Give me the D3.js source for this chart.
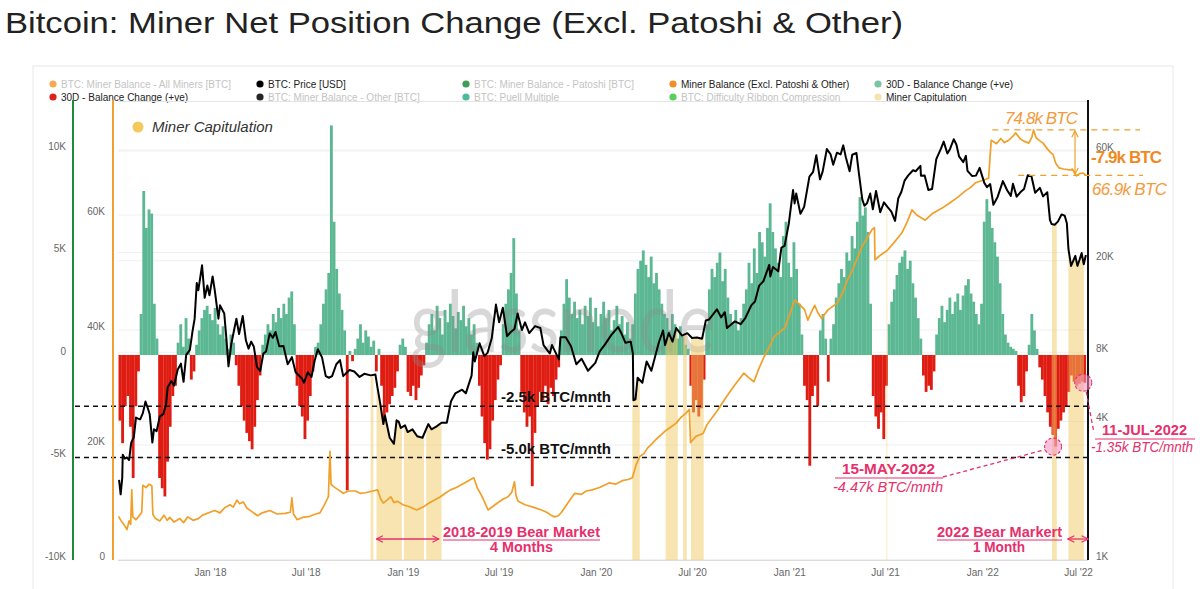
<!DOCTYPE html>
<html><head><meta charset="utf-8">
<script src="https://cdn.jsdelivr.net/npm/d3@7"></script>
<style>
body{margin:0;background:#fff}
svg{display:block;font-family:"Liberation Sans",Arial,Helvetica,sans-serif}
</style>
</head><body>
<svg id="c" width="1200" height="589"></svg>
<script>
// ---------------- DATA ----------------
const title = "Bitcoin: Miner Net Position Change (Excl. Patoshi & Other)";

// BTC price [USD]
const priceSeries = [
["2017-07-13",2230],["2017-07-16",1930],["2017-07-19",2270],["2017-07-20",2870],["2017-07-24",2760],["2017-07-28",2790],
["2017-08-01",2720],["2017-08-05",3240],["2017-08-10",3420],["2017-08-14",4160],["2017-08-18",4120],["2017-08-22",4090],
["2017-08-27",4350],["2017-09-01",4890],["2017-09-05",4600],["2017-09-09",4300],["2017-09-14",3240],["2017-09-17",3700],
["2017-09-22",3630],["2017-09-28",4200],["2017-10-05",4320],["2017-10-10",4770],["2017-10-13",5640],["2017-10-20",6000],
["2017-10-25",5730],["2017-11-01",6740],["2017-11-07",7140],["2017-11-12",5950],["2017-11-17",7790],["2017-11-24",8200],
["2017-11-29",9890],["2017-12-03",11200],["2017-12-07",16000],["2017-12-10",14900],["2017-12-17",19100],["2017-12-22",13800],
["2017-12-27",15600],["2017-12-31",14150],["2018-01-06",17100],["2018-01-10",14900],["2018-01-17",11200],["2018-01-20",12800],
["2018-01-28",11800],["2018-02-01",9200],["2018-02-05",6950],["2018-02-10",8600],["2018-02-16",10100],["2018-02-20",11200],
["2018-02-25",9600],["2018-03-04",11500],["2018-03-10",9000],["2018-03-15",8300],["2018-03-20",8900],["2018-03-25",8450],
["2018-03-31",6900],["2018-04-06",6630],["2018-04-12",7900],["2018-04-17",8050],["2018-04-24",9650],["2018-04-30",9250],
["2018-05-05",9800],["2018-05-12",8500],["2018-05-20",8520],["2018-05-28",7100],["2018-06-05",7620],["2018-06-12",6550],
["2018-06-24",6150],["2018-06-28",5900],["2018-07-05",6550],["2018-07-12",6250],["2018-07-18",7350],["2018-07-24",8250],
["2018-08-01",7600],["2018-08-08",6300],["2018-08-14",6200],["2018-08-20",6300],["2018-08-28",7100],["2018-09-04",7400],
["2018-09-10",6300],["2018-09-16",6500],["2018-09-22",6700],["2018-10-01",6600],["2018-10-11",6250],["2018-10-20",6450],
["2018-11-01",6350],["2018-11-10",6400],["2018-11-14",5600],["2018-11-19",4800],["2018-11-25",3900],["2018-11-28",4250],
["2018-12-07",3400],["2018-12-15",3200],["2018-12-20",4050],["2018-12-24",4000],["2018-12-28",3750],["2019-01-05",3850],
["2019-01-10",3600],["2019-01-19",3700],["2019-01-28",3450],["2019-02-07",3400],["2019-02-18",3900],["2019-02-24",3700],
["2019-03-05",3800],["2019-03-15",3950],["2019-03-25",3950],["2019-04-02",4900],["2019-04-10",5300],["2019-04-23",5500],
["2019-04-30",5300],["2019-05-11",6350],["2019-05-14",8000],["2019-05-17",7300],["2019-05-26",8750],["2019-06-04",7700],
["2019-06-10",7950],["2019-06-18",9200],["2019-06-26",12900],["2019-07-02",10800],["2019-07-09",12500],["2019-07-17",9400],
["2019-07-24",9800],["2019-07-31",10100],["2019-08-06",11800],["2019-08-14",10000],["2019-08-20",10800],["2019-08-28",9700],
["2019-09-08",10400],["2019-09-18",10200],["2019-09-24",8600],["2019-10-06",7900],["2019-10-10",8600],["2019-10-23",7450],
["2019-10-26",9300],["2019-11-05",9300],["2019-11-15",8500],["2019-11-25",7100],["2019-12-05",7500],["2019-12-17",6650],
["2019-12-31",7200],["2020-01-08",8050],["2020-01-19",8700],["2020-01-30",9500],["2020-02-12",10300],["2020-02-19",9600],
["2020-02-26",8800],["2020-03-07",8900],["2020-03-11",7900],["2020-03-12",4950],["2020-03-16",5000],["2020-03-20",6200],
["2020-03-29",5900],["2020-04-06",7300],["2020-04-15",6650],["2020-04-29",8800],["2020-05-07",9950],["2020-05-11",8600],
["2020-05-18",9700],["2020-05-25",8900],["2020-06-01",10200],["2020-06-12",9460],["2020-06-22",9690],["2020-07-01",9230],
["2020-07-10",9280],["2020-07-20",9170],["2020-07-27",11000],["2020-08-02",11100],["2020-08-17",12300],["2020-08-25",11350],
["2020-09-01",11950],["2020-09-05",10200],["2020-09-20",10900],["2020-10-01",10600],["2020-10-10",11300],["2020-10-21",12800],
["2020-10-28",13300],["2020-11-05",15600],["2020-11-13",16300],["2020-11-24",19200],["2020-11-26",17100],["2020-12-01",18800],
["2020-12-11",18000],["2020-12-17",22800],["2020-12-23",23200],["2020-12-31",29000],["2021-01-08",40600],["2021-01-11",35500],
["2021-01-14",39200],["2021-01-22",32000],["2021-01-29",34300],["2021-02-08",46400],["2021-02-15",48700],["2021-02-21",57500],
["2021-02-28",45200],["2021-03-05",48800],["2021-03-13",61200],["2021-03-20",58100],["2021-03-25",52300],["2021-04-01",59000],
["2021-04-08",58000],["2021-04-13",63500],["2021-04-18",56200],["2021-04-25",49000],["2021-04-30",57800],["2021-05-08",58800],
["2021-05-12",49200],["2021-05-19",37000],["2021-05-23",34700],["2021-05-28",35600],["2021-06-03",39200],["2021-06-08",33500],
["2021-06-14",40200],["2021-06-22",32500],["2021-06-29",35900],["2021-07-06",34200],["2021-07-13",32700],["2021-07-20",29800],
["2021-07-26",37300],["2021-08-01",39900],["2021-08-07",44600],["2021-08-14",47000],["2021-08-23",49500],["2021-08-28",49000],
["2021-09-06",51700],["2021-09-07",46900],["2021-09-14",47000],["2021-09-21",40600],["2021-09-28",41000],["2021-10-06",55300],
["2021-10-15",61600],["2021-10-20",65900],["2021-10-27",58500],["2021-11-01",61300],["2021-11-08",67500],["2021-11-13",64100],
["2021-11-18",56900],["2021-11-26",53700],["2021-12-01",57200],["2021-12-04",49200],["2021-12-13",46700],["2021-12-20",46900],
["2021-12-27",50700],["2022-01-05",43500],["2022-01-10",41800],["2022-01-16",43100],["2022-01-22",35000],["2022-01-30",37900],
["2022-02-09",44400],["2022-02-17",40500],["2022-02-24",38300],["2022-02-28",43200],["2022-03-07",38000],["2022-03-14",39700],
["2022-03-21",41000],["2022-03-28",47100],["2022-04-04",46600],["2022-04-11",39500],["2022-04-20",41500],["2022-04-26",38100],
["2022-05-04",39700],["2022-05-09",30100],["2022-05-12",28900],["2022-05-18",28700],["2022-05-24",29600],["2022-05-31",31800],
["2022-06-06",31400],["2022-06-10",29100],["2022-06-13",22500],["2022-06-18",19000],["2022-06-22",20000],["2022-06-26",21000],
["2022-06-30",19000],["2022-07-04",20200],["2022-07-08",21600],["2022-07-12",19300],["2022-07-16",21200]
];

// Miner Balance (Excl. Patoshi & Other) [thousand BTC]
const minerBalanceK = [
["2017-07-12",7.6],["2017-07-17",6.8],["2017-07-22",6.2],["2017-07-28",5.3],["2017-08-01",6.8],["2017-08-04",6.2],
["2017-08-06",12.2],["2017-08-08",7.5],["2017-08-14",7.0],["2017-08-21",7.8],["2017-08-25",8.3],["2017-08-27",13.0],
["2017-09-02",12.6],["2017-09-08",13.2],["2017-09-13",12.9],["2017-09-15",7.9],["2017-09-20",7.2],["2017-09-28",6.8],
["2017-10-06",7.8],["2017-10-12",6.9],["2017-10-17",7.4],["2017-10-25",6.6],["2017-11-05",7.2],["2017-11-12",6.5],
["2017-11-20",7.5],["2017-11-30",6.9],["2017-12-10",7.2],["2017-12-18",7.8],["2018-01-01",8.3],["2018-01-10",8.6],
["2018-01-20",8.2],["2018-01-29",9.1],["2018-02-08",9.6],["2018-02-14",9.2],["2018-02-21",10.4],["2018-02-26",9.8],
["2018-03-05",10.1],["2018-03-12",9.0],["2018-03-20",8.5],["2018-04-01",7.7],["2018-04-10",8.2],["2018-04-24",8.6],
["2018-05-08",8.0],["2018-05-23",8.1],["2018-06-02",8.3],["2018-06-05",10.8],["2018-06-08",8.0],["2018-06-15",7.0],
["2018-06-25",7.4],["2018-07-09",7.6],["2018-07-20",8.0],["2018-07-28",8.2],["2018-08-05",9.5],["2018-08-13",11.0],
["2018-08-16",18.9],["2018-08-18",13.2],["2018-08-22",12.8],["2018-09-01",12.2],["2018-09-10",11.6],["2018-09-20",12.0],
["2018-10-03",12.0],["2018-10-12",11.6],["2018-10-22",11.7],["2018-11-05",12.0],["2018-11-14",12.2],["2018-11-20",10.6],
["2018-11-25",9.9],["2018-12-02",10.4],["2018-12-09",11.0],["2018-12-15",10.0],["2018-12-22",10.2],["2019-01-01",9.6],
["2019-01-12",9.3],["2019-01-27",8.7],["2019-02-08",9.2],["2019-02-21",10.0],["2019-03-01",10.4],["2019-03-13",11.0],
["2019-03-22",11.6],["2019-04-01",12.2],["2019-04-12",12.6],["2019-04-24",13.2],["2019-05-05",13.8],["2019-05-15",14.3],
["2019-05-22",12.5],["2019-05-28",11.5],["2019-06-04",10.2],["2019-06-11",8.7],["2019-06-20",9.3],["2019-06-30",10.0],
["2019-07-10",10.6],["2019-07-19",11.0],["2019-07-26",11.8],["2019-07-31",13.6],["2019-08-03",11.2],["2019-08-07",10.2],
["2019-08-20",9.6],["2019-09-07",9.1],["2019-09-20",8.7],["2019-09-30",8.3],["2019-10-08",7.8],["2019-10-15",7.5],
["2019-10-22",7.7],["2019-10-28",8.3],["2019-11-08",9.8],["2019-11-22",11.6],["2019-12-04",11.4],["2019-12-14",12.0],
["2019-12-25",12.2],["2020-01-08",12.6],["2020-01-26",13.4],["2020-02-08",13.2],["2020-02-20",13.8],["2020-03-02",14.0],
["2020-03-10",14.3],["2020-03-17",16.5],["2020-03-24",18.0],["2020-04-01",18.5],["2020-04-08",19.5],["2020-04-16",20.2],
["2020-04-24",21.0],["2020-05-04",21.8],["2020-05-12",22.5],["2020-05-20",23.0],["2020-06-01",23.8],["2020-06-10",24.8],
["2020-06-20",25.6],["2020-06-26",26.2],["2020-06-28",20.4],["2020-07-08",21.5],["2020-07-22",22.0],["2020-07-29",23.5],
["2020-08-05",24.4],["2020-08-18",26.0],["2020-09-04",28.4],["2020-09-18",30.2],["2020-10-07",32.5],["2020-10-15",31.8],
["2020-10-26",31.0],["2020-11-04",33.2],["2020-11-14",35.3],["2020-11-24",37.0],["2020-12-03",38.8],["2020-12-13",39.6],
["2020-12-23",40.3],["2021-01-01",42.5],["2021-01-11",45.2],["2021-01-20",44.5],["2021-01-30",43.5],["2021-02-05",41.7],
["2021-02-12",43.2],["2021-02-18",44.3],["2021-02-24",43.0],["2021-03-03",42.0],["2021-03-15",43.5],["2021-04-02",44.7],
["2021-04-12",46.5],["2021-04-21",48.7],["2021-05-01",50.5],["2021-05-10",52.6],["2021-05-18",54.4],["2021-05-28",56.0],
["2021-06-06",57.4],["2021-06-11",57.8],["2021-06-12",52.2],["2021-06-22",53.0],["2021-07-06",53.9],["2021-07-18",55.2],
["2021-08-02",56.9],["2021-08-12",58.8],["2021-08-21",60.9],["2021-08-30",60.0],["2021-09-15",59.1],["2021-09-28",60.2],
["2021-10-17",61.2],["2021-10-30",62.0],["2021-11-16",63.1],["2021-11-30",64.2],["2021-12-10",64.8],["2021-12-19",65.6],
["2022-01-01",66.0],["2022-01-13",66.4],["2022-01-16",70.5],["2022-01-18",73.0],["2022-01-28",72.4],["2022-02-05",73.3],
["2022-02-12",72.6],["2022-02-20",73.0],["2022-03-01",73.8],["2022-03-05",74.3],["2022-03-14",73.2],["2022-03-22",72.8],
["2022-03-30",72.5],["2022-04-05",73.6],["2022-04-08",74.8],["2022-04-13",73.4],["2022-04-20",72.9],["2022-04-26",72.5],
["2022-05-04",71.5],["2022-05-10",70.9],["2022-05-15",70.5],["2022-05-20",69.0],["2022-05-26",68.2],["2022-06-04",68.0],
["2022-06-12",67.9],["2022-06-22",67.8],["2022-06-28",66.8],["2022-07-04",67.2],["2022-07-11",67.3],["2022-07-16",66.9]
];

// 30D balance change [thousand BTC], one value every 5 days starting 2017-07-12
const changeStart = "2017-07-12";
const changeStepDays = 5;
const balanceChange30dK = [
-3.2,-4.3,-2.5,-2.0,-3.5,-6.0,-2.5,-0.8,
2.0,8.0,6.2,7.1,6.9,2.5,0.8,
-6.0,-6.5,-6.9,-5.2,-3.5,-2.0,-1.5,
0.6,1.5,0.4,1.8,0.8,-1.2,-0.8,
0.5,1.2,1.8,2.2,2.4,2.0,1.7,2.3,1.5,1.0,1.4,0.8,0.3,
1.0,0.6,-0.5,
-1.5,-2.5,-3.2,-3.8,-4.2,-4.6,-3.5,-2.2,-1.0,
0.5,1.0,1.5,1.2,2.0,1.6,2.3,1.8,2.5,2.0,2.8,3.1,1.5,
-1.5,-2.5,-3.0,-4.1,-3.2,-2.0,-0.8,
0.4,0.6,
1.5,2.5,3.2,4.0,11.2,6.5,4.2,3.0,2.2,1.2,
-6.6,
0.2,-0.3,0.3,
0.8,1.5,0.6,1.2,0.9,0.4,0.7,
-0.8,
0.3,
-1.5,-3.2,-2.8,-2.4,-2.0,-1.6,-0.8,
0.5,0.8,0.4,
-1.8,-2.0,-1.5,-2.2,-1.6,-1.0,-0.5,
0.6,1.5,2.0,1.2,2.4,1.8,1.0,2.2,1.6,2.5,1.9,1.3,2.1,1.7,2.4,1.4,1.8,1.0,1.5,0.6,
-1.5,-3.0,-4.3,-5.1,-4.6,-3.2,-2.2,-1.2,-0.5,
1.5,2.5,3.2,4.0,5.7,3.0,1.2,
-1.8,-2.8,-3.5,-3.0,-6.4,-3.8,-2.5,-1.8,-2.2,-1.5,-2.4,-1.6,-2.0,-1.2,-0.6,
1.2,2.5,3.7,2.8,2.0,2.6,1.8,2.2,1.5,2.4,1.9,2.8,1.6,2.3,1.4,2.0,2.6,1.8,2.2,1.2,1.7,2.4,1.5,1.9,1.0,1.6,0.8,
1.5,3.0,4.2,4.6,5.1,4.4,3.8,4.8,3.5,4.0,3.2,2.5,2.0,
1.8,1.2,2.0,1.5,0.8,1.4,0.9,0.5,0.3,
-1.5,-2.8,-2.2,-3.0,-2.6,-1.2,
1.5,3.2,4.2,3.8,4.5,5.0,3.6,4.2,2.8,2.0,1.5,2.2,1.2,1.8,2.5,3.2,4.5,3.5,5.2,4.0,6.0,5.5,4.8,6.2,7.4,6.0,5.2,4.5,3.8,
5.8,6.5,4.5,3.8,5.5,4.2,2.5,1.0,
-1.5,-2.2,-5.4,-2.0,-1.5,-2.5,
1.2,2.0,0.8,
-1.3,
0.8,1.5,2.8,3.5,4.2,3.8,5.0,4.6,5.8,5.2,6.5,7.7,6.8,7.2,6.0,2.5,
-2.0,-3.0,-3.6,-2.8,-4.1,-1.5,
1.5,2.6,3.2,3.9,4.5,4.8,5.1,4.2,4.6,3.5,2.8,1.8,0.8,
-1.0,-1.8,-1.5,-1.7,-0.8,
1.0,1.8,2.4,1.6,2.2,2.8,2.0,2.6,3.0,2.2,2.9,3.4,3.7,3.0,2.6,2.0,1.5,2.5,6.5,7.6,7.0,6.2,5.5,4.8,3.5,2.0,1.0,0.6,0.4,0.3,0.2,
-1.5,-2.3,-2.0,-0.8,
0.5,2.0,1.2,0.3,
-0.6,-1.2,-2.0,-2.8,-3.5,-3.9,-4.47,-3.6,-3.2,-2.8,-2.5,-1.8,
-1.0,-1.3,-1.5,-1.4,-1.3,-1.35
];

// Miner Capitulation periods
const capitulationPeriods = [
["2018-11-01","2018-11-06"],["2018-11-12","2018-12-30"],["2019-01-03","2019-02-10"],["2019-02-14","2019-03-15"],
["2020-03-10","2020-03-24"],["2020-05-12","2020-06-04"],["2020-06-14","2020-06-21"],["2020-06-29","2020-07-23"],
["2021-07-03","2021-07-06"],["2022-05-13","2022-05-22"],["2022-06-13","2022-07-12"]
];

const balTicks = [-10,-5,0,5,10];
const balTickLabels = ["-10K","-5K","0","5K","10K"];
const minerTicks = [0,20,40,60];
const minerTickLabels = ["0","20K","40K","60K"];
const priceTicks = [1000,4000,8000,20000,60000];
const priceTickLabels = ["1K","4K","8K","20K","60K"];
const xTickDates = ["2018-01-01","2018-07-01","2019-01-01","2019-07-01","2020-01-01","2020-07-01","2021-01-01","2021-07-01","2022-01-01","2022-07-01"];
const xTickLabels = ["Jan '18","Jul '18","Jan '19","Jul '19","Jan '20","Jul '20","Jan '21","Jul '21","Jan '22","Jul '22"];
const thresholdLevelsK = [-2.5,-5.0];
const thresholdLabels = ["-2.5k BTC/mnth","-5.0k BTC/mnth"];

const legendRow1 = [
 {label:"BTC: Miner Balance - All Miners [BTC]", dot:"#f39c34", active:false},
 {label:"BTC: Price [USD]", dot:"#000", active:true},
 {label:"BTC: Miner Balance - Patoshi [BTC]", dot:"#1e8a3c", active:false},
 {label:"Miner Balance (Excl. Patoshi & Other)", dot:"#ef9022", active:true},
 {label:"30D - Balance Change (+ve)", dot:"#7cc4a5", active:true}
];
const legendRow2 = [
 {label:"30D - Balance Change (+ve)", dot:"#e0201a", active:true},
 {label:"BTC: Miner Balance - Other [BTC]", dot:"#000", active:false},
 {label:"BTC: Puell Multiple", dot:"#2bb08a", active:false},
 {label:"BTC: Difficulty Ribbon Compression", dot:"#3ec43e", active:false},
 {label:"Miner Capitulation", dot:"#f6e3ae", active:true}
];

// ---------------- CHART ----------------
const parse = d3.utcParse("%Y-%m-%d");
const svg = d3.select("#c");
const PL = 118, PR = 1088, PT = 100, PB = 560;
const x = d3.scaleUtc().domain([parse("2017-07-11"), parse("2022-07-20")]).range([PL, PR]);
const yBal = d3.scaleLinear().domain([-10,10]).range([560,150]);
const yMin = d3.scaleLinear().domain([0,80]).range([560,100]);
const yPx = d3.scaleLog().domain([1000,100000]).range([560,100]);

const pink = "#e5306c", orange = "#f0a02a", orangeTxt = "#f39b3c";
const defs = svg.append("defs");

// frame
svg.append("rect").attr("x",33).attr("y",66).attr("width",1140).attr("height",540)
  .attr("fill","none").attr("stroke","#e8e8e8");

// title
svg.append("text").attr("x",5).attr("y",33).text(title)
  .attr("font-size",29).attr("fill","#222").attr("textLength",898).attr("lengthAdjust","spacingAndGlyphs");

// legend
const colX = [53,260,466,673,878];
[[legendRow1,84],[legendRow2,97]].forEach(([row,yy]) => {
  row.forEach((d,i) => {
    svg.append("circle").attr("cx",colX[i]).attr("cy",yy).attr("r",3.6).attr("fill",d.dot)
      .attr("opacity", d.active?1:0.85);
    svg.append("text").attr("x",colX[i]+8).attr("y",yy+3.5).text(d.label)
      .attr("font-size",10).attr("fill", d.active?"#222":"#c4c4c4");
  });
});
svg.append("line").attr("x1",PL).attr("x2",PR).attr("y1",101.5).attr("y2",101.5).attr("stroke","#e4e4e4");

// gridlines
const grid = svg.append("g").attr("stroke","#efefef").attr("stroke-width",1);
priceTicks.forEach(t => grid.append("line").attr("x1",PL).attr("x2",PR).attr("y1",yPx(t)).attr("y2",yPx(t)));
balTicks.forEach(t => grid.append("line").attr("x1",PL).attr("x2",PR).attr("y1",yBal(t)).attr("y2",yBal(t)));
minerTicks.forEach(t => grid.append("line").attr("x1",PL).attr("x2",PR).attr("y1",yMin(t)).attr("y2",yMin(t)));
svg.append("line").attr("x1",PL).attr("x2",PR).attr("y1",PB+0.5).attr("y2",PB+0.5).attr("stroke","#dcdcdc");

// bars
const start = parse(changeStart);
const bars = balanceChange30dK.map((v,i) => ({d: d3.utcDay.offset(start, i*changeStepDays), v}));
svg.append("g").selectAll("rect").data(bars).join("rect")
  .attr("x", d => x(d.d))
  .attr("width", d => x(d3.utcDay.offset(d.d, changeStepDays)) - x(d.d) + 0.2)
  .attr("y", d => d.v >= 0 ? yBal(d.v) : yBal(0))
  .attr("height", d => Math.abs(yBal(d.v) - yBal(0)))
  .attr("fill", d => d.v >= 0 ? "#5cb793" : "#df1c12");

// watermark
svg.append("text").attr("x",410).attr("y",352).text("glassnode")
  .attr("font-family","Lato, 'Open Sans', sans-serif").attr("font-size",86)
  .attr("fill","#8a8a8a").attr("opacity",0.33).attr("textLength",305).attr("lengthAdjust","spacingAndGlyphs");

// capitulation bands clipped under the price line
const price = priceSeries.map(([d,v]) => ({date: parse(d), v}));
const underArea = d3.area().x(d => x(d.date)).y0(PB).y1(d => yPx(d.v));
defs.append("clipPath").attr("id","underPrice").append("path").attr("d", underArea(price));
svg.append("g").attr("clip-path","url(#underPrice)").selectAll("rect").data(capitulationPeriods).join("rect")
  .attr("x", d => x(parse(d[0])))
  .attr("width", d => Math.max(1.2, x(parse(d[1])) - x(parse(d[0]))))
  .attr("y", PT).attr("height", PB-PT)
  .attr("fill","#f1c961").attr("opacity", d => d[0]==="2021-07-03" ? 0.25 : 0.5);

// threshold dashed lines
thresholdLevelsK.forEach((lv,i) => {
  svg.append("line").attr("x1",75).attr("x2",PR).attr("y1",yBal(lv)).attr("y2",yBal(lv))
    .attr("stroke","#111").attr("stroke-width",1.3).attr("stroke-dasharray","5,4");
  svg.append("text").attr("x",501).attr("y",yBal(lv)-4).text(thresholdLabels[i])
    .attr("font-size",15).attr("font-weight","bold").attr("fill","#111");
});

// miner balance line
const miner = minerBalanceK.map(([d,v]) => ({date: parse(d), v}));
svg.append("path").datum(miner).attr("fill","none").attr("stroke",orange).attr("stroke-width",1.7)
  .attr("stroke-linejoin","round")
  .attr("d", d3.line().x(d => x(d.date)).y(d => yMin(d.v)));

// price line
svg.append("path").datum(price).attr("fill","none").attr("stroke","#000").attr("stroke-width",2)
  .attr("stroke-linejoin","round")
  .attr("d", d3.line().x(d => x(d.date)).y(d => yPx(d.v)));

// axes lines
svg.append("line").attr("x1",73).attr("x2",73).attr("y1",PT).attr("y2",PB).attr("stroke","#1f8a3a").attr("stroke-width",2);
svg.append("line").attr("x1",113).attr("x2",113).attr("y1",PT).attr("y2",PB).attr("stroke","#f0a030").attr("stroke-width",2);
svg.append("line").attr("x1",PR).attr("x2",PR).attr("y1",PT).attr("y2",PB).attr("stroke","#111").attr("stroke-width",2);

// axes labels
function axisLabels(scale, ticks, labels, xx, anchor){
  const g = svg.append("g");
  ticks.forEach((t,i) => g.append("text").attr("x",xx).attr("y",scale(t)-4).attr("dy","0.35em")
    .attr("text-anchor",anchor).attr("font-size",10).attr("fill","#666").text(labels[i]));
}
axisLabels(yBal, balTicks, balTickLabels, 66, "end");
axisLabels(yMin, minerTicks, minerTickLabels, 105, "end");
axisLabels(yPx, priceTicks, priceTickLabels, 1096, "start");
const xAxis = d3.axisBottom(x).tickValues(xTickDates.map(parse)).tickFormat((d,i) => xTickLabels[i]).tickSize(0).tickPadding(0);
const gx = svg.append("g").attr("transform","translate(0,569)").call(xAxis);
gx.select(".domain").remove();
gx.selectAll("text").attr("font-size",10).attr("fill","#666").attr("font-family","'Liberation Sans', Arial, sans-serif");

// in-chart legend
svg.append("circle").attr("cx",138).attr("cy",127).attr("r",5.5).attr("fill","#f3c95c");
svg.append("text").attr("x",152).attr("y",132).text("Miner Capitulation").attr("font-size",15)
  .attr("font-style","italic").attr("fill","#333");

// markers
function marker(id, color){
  defs.append("marker").attr("id",id).attr("viewBox","0 0 10 10").attr("refX",9).attr("refY",5)
    .attr("markerUnits","userSpaceOnUse").attr("markerWidth",8).attr("markerHeight",8)
    .attr("orient","auto-start-reverse")
    .append("path").attr("d","M1,1 L9,5 L1,9").attr("fill","none").attr("stroke",color).attr("stroke-width",1.5);
}
marker("ap", pink); marker("ao", orange);

// orange annotation (top right)
const yHi = yMin(74.8), yLo = yMin(66.9);
svg.append("line").attr("x1",x(parse("2022-01-20"))).attr("x2",1140).attr("y1",yHi).attr("y2",yHi)
  .attr("stroke",orange).attr("stroke-width",1.3).attr("stroke-dasharray","6,5");
svg.append("line").attr("x1",x(parse("2022-03-10"))).attr("x2",1143).attr("y1",yLo).attr("y2",yLo)
  .attr("stroke",orange).attr("stroke-width",1.3).attr("stroke-dasharray","6,5");
svg.append("line").attr("x1",1075).attr("x2",1075).attr("y1",yHi+1).attr("y2",yLo-1)
  .attr("stroke",orange).attr("stroke-width",1.2).attr("marker-start","url(#ao)").attr("marker-end","url(#ao)");
svg.append("text").attr("x",1078).attr("y",124).attr("text-anchor","end").text("74.8k BTC")
  .attr("font-size",17).attr("font-style","italic").attr("fill",orangeTxt).attr("textLength",73);
svg.append("text").attr("x",1091).attr("y",163).text("-7.9k BTC")
  .attr("font-size",17).attr("font-weight","bold").attr("fill","#ef8a1f").attr("textLength",71);
svg.append("text").attr("x",1092).attr("y",195).text("66.9k BTC")
  .attr("font-size",17).attr("font-style","italic").attr("fill",orangeTxt).attr("textLength",75);

// pink annotations
const c1 = {x: x(parse("2022-05-15")), y: yBal(-4.47)};
const c2 = {x: x(parse("2022-07-11")), y: yBal(-1.35)};
[c1,c2].forEach(c => svg.append("circle").attr("cx",c.x).attr("cy",c.y).attr("r",8.5)
  .attr("fill","#f48fbf").attr("fill-opacity",0.55).attr("stroke",pink).attr("stroke-width",1.1).attr("stroke-dasharray","3,2"));
svg.append("path").attr("d",`M943,477 L${c1.x-8},${c1.y+3}`).attr("stroke",pink).attr("stroke-width",1.3)
  .attr("stroke-dasharray","4,3").attr("fill","none");
svg.append("path").attr("d",`M${c2.x+3},${c2.y+9} Q1090,412 1094,433`).attr("stroke",pink).attr("stroke-width",1.3)
  .attr("stroke-dasharray","4,3").attr("fill","none");

function pinkLabel(txt, xx, yy, w, bold, italic){
  const t = svg.append("text").attr("x",xx).attr("y",yy).text(txt).attr("fill",pink)
    .attr("font-size",14.5)
    .attr("font-weight",bold?"bold":"normal").attr("font-style",italic?"italic":"normal");
  if (w) t.attr("textLength",w).attr("lengthAdjust","spacingAndGlyphs");
  return t;
}
function uline(x1,x2,yy){ svg.append("line").attr("x1",x1).attr("x2",x2).attr("y1",yy).attr("y2",yy).attr("stroke",pink).attr("stroke-width",1.2); }

pinkLabel("15-MAY-2022", 842, 474, 93, true, false);
uline(835, 943, 478);
pinkLabel("-4.47k BTC/mnth", 833, 492, 110, false, true);

pinkLabel("11-JUL-2022", 1102, 435, 85, true, false);
uline(1095, 1195, 439);
pinkLabel("-1.35k BTC/mnth", 1091, 452, 102, false, true);

pinkLabel("2018-2019 Bear Market", 443, 537, 157, true, false);
uline(443, 600, 540);
pinkLabel("4 Months", 490, 552, 63, true, false);
svg.append("line").attr("x1",x(parse("2018-11-12"))).attr("x2",x(parse("2019-03-10"))).attr("y1",539).attr("y2",539)
  .attr("stroke",pink).attr("stroke-width",1.3).attr("marker-start","url(#ap)").attr("marker-end","url(#ap)");

pinkLabel("2022 Bear Markert", 937, 537, 125, true, false);
uline(937, 1062, 540);
pinkLabel("1 Month", 973, 552, 52, true, false);
svg.append("line").attr("x1",x(parse("2022-06-12"))).attr("x2",PR).attr("y1",539).attr("y2",539)
  .attr("stroke",pink).attr("stroke-width",1.3).attr("marker-start","url(#ap)").attr("marker-end","url(#ap)");
</script>
</body></html>
